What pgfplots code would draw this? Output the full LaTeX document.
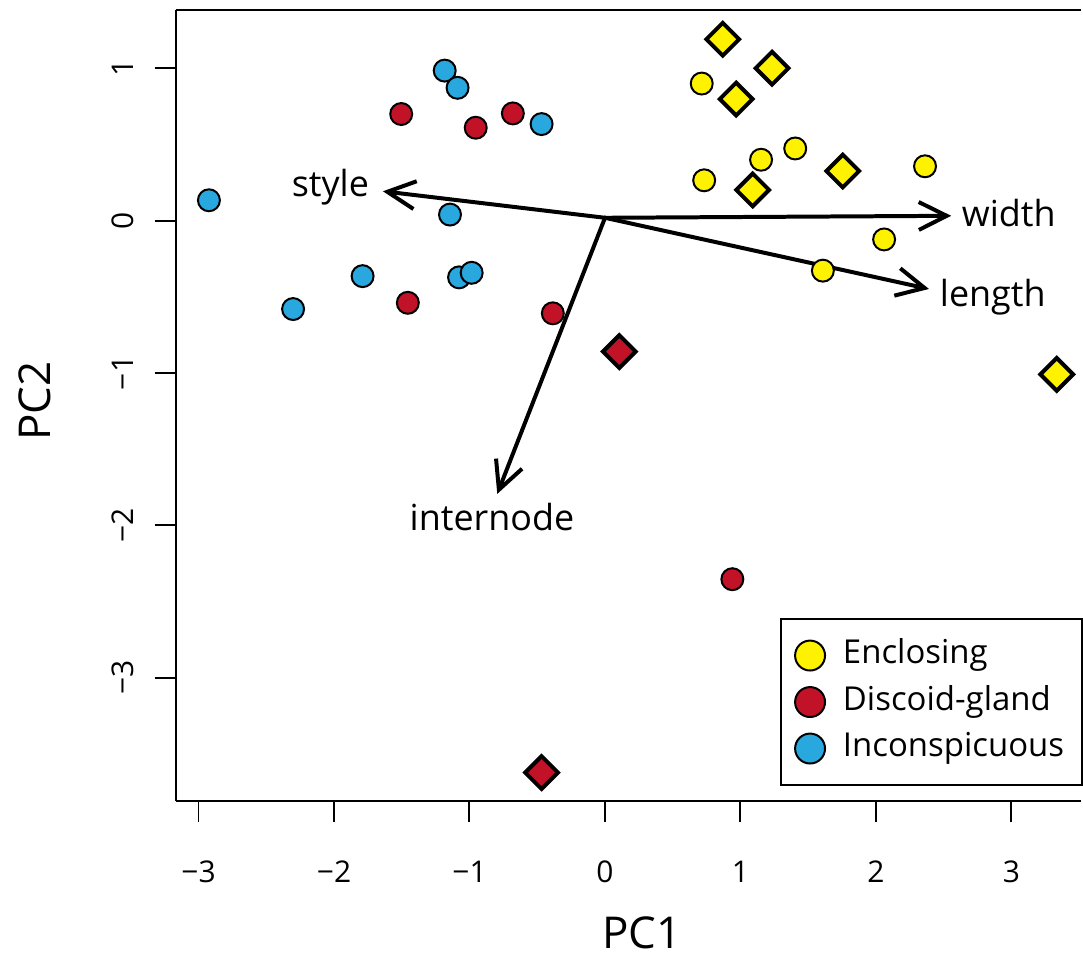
\documentclass[border=0pt]{standalone}
\usepackage{fontspec}
\setmainfont{Open Sans}
\usepackage{pgfplots}
\pgfplotsset{compat=1.18}
\usetikzlibrary{arrows.meta}
\definecolor{cyel}{RGB}{255,242,0}
\definecolor{cred}{RGB}{193,18,40}
\definecolor{cblu}{RGB}{41,168,224}
\begin{document}
\begin{tikzpicture}
\begin{axis}[
  scale only axis, width=453.5pt, height=396.5pt,
  xmin=-3.169, xmax=3.510, ymin=-3.811, ymax=1.382,
  axis x line*=box, axis y line*=left,
  axis line style={line width=1pt},
  xtick={-3,-2,-1,0,1,2,3}, xticklabels={−3,−2,−1,0,1,2,3},
  ytick={-3,-2,-1,0,1}, yticklabels={−3,−2,−1,0,1},
  xtick pos=bottom, ytick pos=left,
  tick align=outside, major tick length=10.5pt,
  every tick/.style={black, line width=1pt},
  tick label style={font=\fontsize{15}{18}\selectfont},
  xticklabel shift=16pt, yticklabel shift=7pt,
  yticklabel style={rotate=90, anchor=south},
  xlabel={PC1}, ylabel={PC2},
  label style={font=\fontsize{22}{26}\selectfont},
  xlabel style={at={(axis description cs:0.515,-0.166)}, anchor=center},
  ylabel style={at={(axis description cs:-0.1555,0.506)}, anchor=center},
  legend style={at={(axis description cs:0.668,0.232)}, anchor=north west,
    draw=black, line width=1pt, font=\fontsize{16.5}{19}\selectfont,
    row sep=3.3pt, inner xsep=7pt, inner ysep=8.5pt,
    nodes={text height=12pt, text depth=4pt}},
  legend cell align=left,
  legend image code/.code={\draw[#1, mark size=7.5pt] plot coordinates {(7.5pt,0pt)};\path[draw=none,fill=none] (0pt,0pt) -- (22pt,0pt);},
]
% biplot arrows
\addplot[forget plot, line width=2pt, line cap=round, -{Straight Barb[length=14pt,width=14pt]}] coordinates {(0,0.018) (-1.639,0.192)};
\addplot[forget plot, line width=2pt, line cap=round, -{Straight Barb[length=14pt,width=14pt]}] coordinates {(0,0.018) (2.555,0.031)};
\addplot[forget plot, line width=2pt, line cap=round, -{Straight Barb[length=14pt,width=14pt]}] coordinates {(0,0.018) (2.391,-0.449)};
\addplot[forget plot, line width=2pt, line cap=round, -{Straight Barb[length=14pt,width=14pt]}] coordinates {(0,0.018) (-0.795,-1.794)};
\node[font=\fontsize{18}{21}\selectfont] at (axis cs:-2.027,0.216) {style};
\node[font=\fontsize{18}{21}\selectfont] at (axis cs:2.98,0.046) {width};
\node[font=\fontsize{18}{21}\selectfont] at (axis cs:2.862,-0.504) {length};
\node[font=\fontsize{18}{21}\selectfont] at (axis cs:-0.834,-1.945) {internode};
% Enclosing
\addplot[only marks, mark=*, mark size=5.5pt, mark options={fill=cyel, draw=black, line width=1pt}] coordinates {
(0.714,0.899) (0.732,0.264) (1.152,0.399) (1.404,0.473) (2.362,0.356) (2.060,-0.124) (1.608,-0.329)};
\addlegendentry{Enclosing}
\addplot[forget plot, only marks, mark=square*, mark size=5.8pt, mark options={rotate=45, fill=cyel, draw=black, line width=2pt}] coordinates {
(0.869,1.190) (1.233,1.000) (0.968,0.797) (1.090,0.201) (1.755,0.325) (3.334,-1.010)};
% Discoid-gland
\addplot[only marks, mark=*, mark size=5.5pt, mark options={fill=cred, draw=black, line width=1pt}] coordinates {
(-1.504,0.699) (-0.954,0.609) (-0.680,0.703) (-1.455,-0.540) (-0.385,-0.609) (0.940,-2.354)};
\addlegendentry{Discoid-gland}
\addplot[forget plot, only marks, mark=square*, mark size=5.8pt, mark options={rotate=45, fill=cred, draw=black, line width=2pt}] coordinates {
(0.106,-0.860) (-0.468,-3.623)};
% Inconspicuous
\addplot[only marks, mark=*, mark size=5.5pt, mark options={fill=cblu, draw=black, line width=1pt}] coordinates {
(-1.183,0.984) (-1.088,0.871) (-0.468,0.633) (-2.923,0.133) (-1.144,0.039) (-1.789,-0.365) (-1.077,-0.373) (-0.984,-0.343) (-2.302,-0.581)};
\addlegendentry{Inconspicuous}
\end{axis}
\path ([xshift=-88pt,yshift=-80pt]current axis.south west) rectangle ([yshift=5pt]current axis.north east);
\end{tikzpicture}
\end{document}
